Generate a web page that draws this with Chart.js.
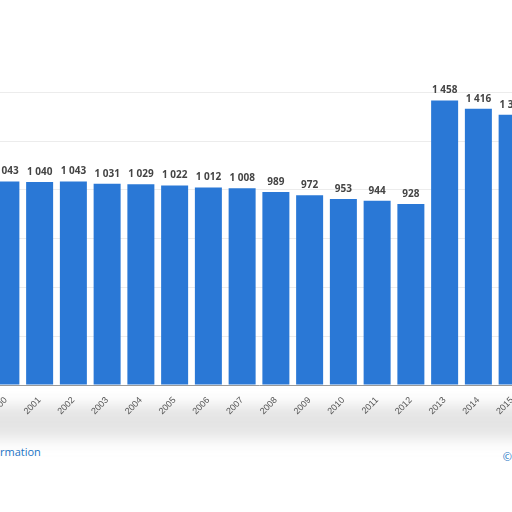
<!DOCTYPE html>
<html>
<head>
<meta charset="utf-8">
<script src="https://cdn.jsdelivr.net/npm/chart.js@4"></script>
<style>
  body { margin: 0; width: 512px; height: 512px; overflow: hidden; background: #fff; font-family: "Open Sans", sans-serif; position: relative; }
  #wrap { position: absolute; left: -11px; top: 63px; width: 540px; height: 362px; }
  .band { position: absolute; left: -20px; right: -20px; top: 405px; height: 34px; background: #e4e4e4; filter: blur(8px); }
  .link { position: absolute; left: 0; top: 444px; font-size: 11px; color: #1a73c4; }
  .copy { position: absolute; right: 0; top: 449px; font-size: 11px; color: #1a73c4; }
</style>
</head>
<body>
<div class="band"></div>
<div id="wrap"><canvas id="c"></canvas></div>
<div class="link">rmation</div>
<div class="copy">©</div>
<script>
  // Years shown (2000 and 2015 are partly cut off by the page edges)
  const years = ['2000','2001','2002','2003','2004','2005','2006','2007','2008','2009','2010','2011','2012','2013','2014','2015'];
  const values = [1043, 1040, 1043, 1031, 1029, 1022, 1012, 1008, 989, 972, 953, 944, 928, 1458, 1416, 1385];

  const fmt = v => String(v).replace(/\B(?=(\d{3})+(?!\d))/g, ' ');

  // Value labels above each bar
  const barLabels = {
    id: 'barLabels',
    afterDatasetsDraw(chart) {
      const ctx = chart.ctx;
      ctx.save();
      ctx.font = 'bold 10px "Open Sans", sans-serif';
      ctx.fillStyle = '#444';
      ctx.textAlign = 'center';
      ctx.textBaseline = 'bottom';
      chart.getDatasetMeta(0).data.forEach((bar, i) => {
        ctx.fillText(fmt(values[i]), bar.x, bar.y - 5);
      });
      ctx.restore();
    }
  };

  new Chart(document.getElementById('c'), {
    type: 'bar',
    data: {
      labels: years,
      datasets: [{ data: values, backgroundColor: '#2a78d6', barPercentage: 0.8, categoryPercentage: 1 }]
    },
    options: {
      responsive: true,
      maintainAspectRatio: false,
      animation: false,
      layout: { padding: 0 },
      plugins: { legend: { display: false }, tooltip: { enabled: false } },
      scales: {
        x: {
          grid: { display: false },
          border: { color: '#999' },
          ticks: { color: '#555', font: { size: 9 }, maxRotation: 45, minRotation: 45, padding: 2 },
          afterFit: s => { s.height = 40; }
        },
        y: {
          min: 0, max: 1650,
          ticks: { display: false, stepSize: 250 },
          border: { display: false },
          grid: { color: ctx => ctx.tick.value > 1500 ? 'rgba(0,0,0,0)' : '#ececec', drawTicks: false },
          afterFit: s => { s.width = 0; }
        }
      }
    },
    plugins: [barLabels]
  });
</script>
</body>
</html>
